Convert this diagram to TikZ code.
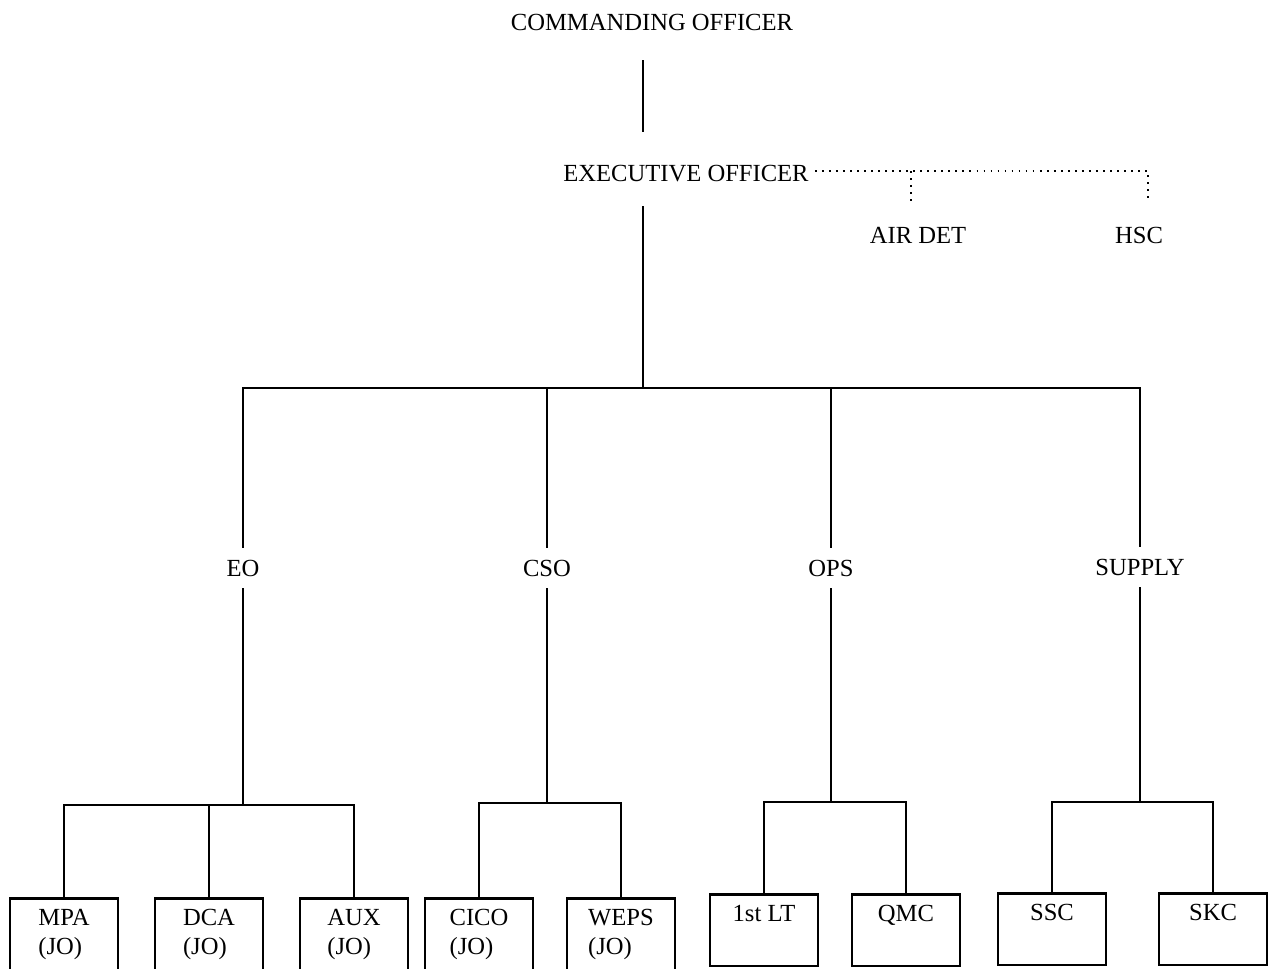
\documentclass[tikz,border=0pt]{standalone}
\usepackage{fontspec}
\setmainfont{Liberation Serif}

% two-line billet text, hung from its first line
\newcommand{\jobillet}[1]{\begin{tabular}[t]{@{}l@{}}#1\\(JO)\end{tabular}}

\tikzset{
  chart/.style={font=\fontsize{14}{17}\selectfont},
  dept/.style={chart, inner xsep=2pt, inner ysep=0.234cm},
  billet/.style={chart, draw, line width=1.6pt, anchor=north,
    minimum width=2.16cm, inner ysep=0.3cm, text height=0.66em, text depth=0.6cm},
  rule/.style={line width=1.2pt},
  staffline/.style={line width=0.9pt, dash pattern=on 1pt off 3pt}
}

\begin{document}
\begin{tikzpicture}[x=0.02cm, y=-0.02cm]
                    \useasboundingbox (0,0) rectangle (1268,968);
                    \clip (0,0) rectangle (1268,968);

                    % Marking CO and XO
                    \node[chart] (co) at (652,22) {COMMANDING OFFICER};%
                    \node[chart] (xo) at (686,174) {EXECUTIVE OFFICER};%
                    \coordinate (co-foot) at (643,60);%
                    \coordinate (xo-head) at (643,132);%
                    \coordinate (xo-foot) at (643,206);%
                    \coordinate (bus) at (643,388);%

                    % Drawing segment CO XO
                    \draw[rule] (co-foot) -- (xo-head);%

                    % Drawing segment XO bus
                    \draw[rule] (xo-foot) -- (bus);%

                    % Marking staff billets
                    \node[chart] (airdet) at (918,235) {AIR DET};%
                    \node[chart] (hsc) at (1139,235) {HSC};%
                    \coordinate (air-tap) at (911,171);%
                    \coordinate (hsc-tap) at (1148,171);%

                    % Drawing dotted segment XO AIR DET HSC
                    \draw[staffline] (xo.east |- air-tap) -- (hsc-tap) -- ++(0,31);%
                    \draw[staffline] (air-tap) -- ++(0,31);%

                    % Marking department heads
                    \node[dept] (eo) at (243,568) {EO};%
                    \node[dept] (cso) at (547,568) {CSO};%
                    \node[dept] (ops) at (831,568) {OPS};%
                    \node[dept] (supply) at (1140,567) {SUPPLY};%

                    % Drawing segment bus EO ... SUPPLY
                    \draw[rule] (eo.north) |- (bus) -| (supply.north);%
                    \draw[rule] (cso.north) -- (cso.north |- bus);%
                    \draw[rule] (ops.north) -- (ops.north |- bus);%

                    % Marking EO division boxes
                    \coordinate (eo-bar) at (243,805);%
                    \node[billet] (mpa) at (64,897) {\jobillet{MPA}};%
                    \node[billet] (dca) at (209,897) {\jobillet{DCA}};%
                    \node[billet] (aux) at (354,897) {\jobillet{AUX}};%
                    \draw[rule] (eo.south) -- (eo-bar);%
                    \draw[rule] (mpa.north) |- (eo-bar) -| (aux.north);%
                    \draw[rule] (dca.north) -- (dca.north |- eo-bar);%

                    % Marking CSO division boxes
                    \coordinate (cso-bar) at (547,803);%
                    \node[billet] (cico) at (479,897) {\jobillet{CICO}};%
                    \node[billet] (weps) at (621,897) {\jobillet{WEPS}};%
                    \draw[rule] (cso.south) -- (cso-bar);%
                    \draw[rule] (cico.north) |- (cso-bar) -| (weps.north);%

                    % Marking OPS division boxes
                    \coordinate (ops-bar) at (831,802);%
                    \node[billet] (lt) at (764,893) {1st LT};%
                    \node[billet] (qmc) at (906,893) {QMC};%
                    \draw[rule] (ops.south) -- (ops-bar);%
                    \draw[rule] (lt.north) |- (ops-bar) -| (qmc.north);%

                    % Marking SUPPLY division boxes
                    \coordinate (supply-bar) at (1140,802);%
                    \node[billet] (ssc) at (1052,892) {SSC};%
                    \node[billet] (skc) at (1213,892) {SKC};%
                    \draw[rule] (supply.south) -- (supply-bar);%
                    \draw[rule] (ssc.north) |- (supply-bar) -| (skc.north);%
\end{tikzpicture}
\end{document}
